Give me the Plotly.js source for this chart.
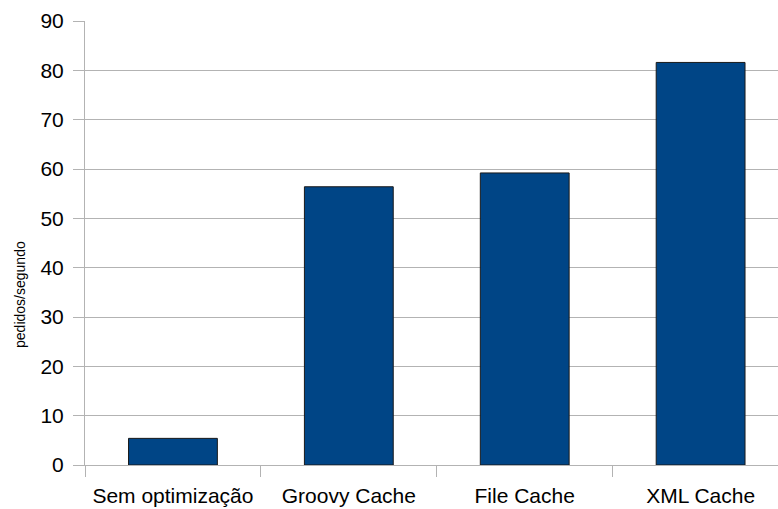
<!DOCTYPE html>
<html><head><meta charset="utf-8">
<script src="https://cdn.plot.ly/plotly-3.0.1.min.js"></script>
<style>html,body{margin:0;padding:0;background:#fff}</style>
</head><body><div id="chart" style="width:778px;height:509px"></div>
<script>
const categories = ["Sem optimização", "Groovy Cache", "File Cache", "XML Cache"];
const values = [5.4, 56.4, 59.2, 81.6];
const yTicks = [0, 10, 20, 30, 40, 50, 60, 70, 80, 90];
const yTitle = "pedidos/segundo";

const trace = {
  type: "bar", x: categories, y: values,
  marker: {color: "#004586", line: {color: "#1a1a1a", width: 1}},
  hoverinfo: "skip"
};
const layout = {
  width: 778, height: 509,
  margin: {l: 85, r: 0, t: 21, b: 44},
  paper_bgcolor: "#ffffff", plot_bgcolor: "#ffffff",
  font: {family: "Liberation Sans, Arial, sans-serif", size: 21, color: "#000"},
  showlegend: false,
  bargap: 0.495,
  xaxis: {
    type: "category", range: [-0.5, 3.44],
    tickson: "boundaries", ticks: "outside", ticklen: 11, tickcolor: "#b3b3b3",
    tickfont: {size: 21, color: "#000"},
    showline: true, linecolor: "#b3b3b3", linewidth: 1,
    showgrid: false, zeroline: false, ticklabelstandoff: 12
  },
  yaxis: {
    range: [0, 90], tickvals: yTicks, ticks: "outside", ticklen: 11, tickcolor: "#b3b3b3",
    tickfont: {size: 21, color: "#000"}, ticklabelstandoff: 5,
    showline: true, linecolor: "#b3b3b3", linewidth: 1,
    showgrid: true, gridcolor: "#b3b3b3", gridwidth: 1, zeroline: false
  },
  annotations: [{
    text: yTitle, textangle: -90, xref: "paper", yref: "paper",
    x: 0, xshift: -65, y: 0.383, xanchor: "center", yanchor: "middle",
    showarrow: false, font: {size: 14, color: "#000"}
  }]
};
Plotly.newPlot("chart", [trace], layout, {staticPlot: true});
</script></body></html>
